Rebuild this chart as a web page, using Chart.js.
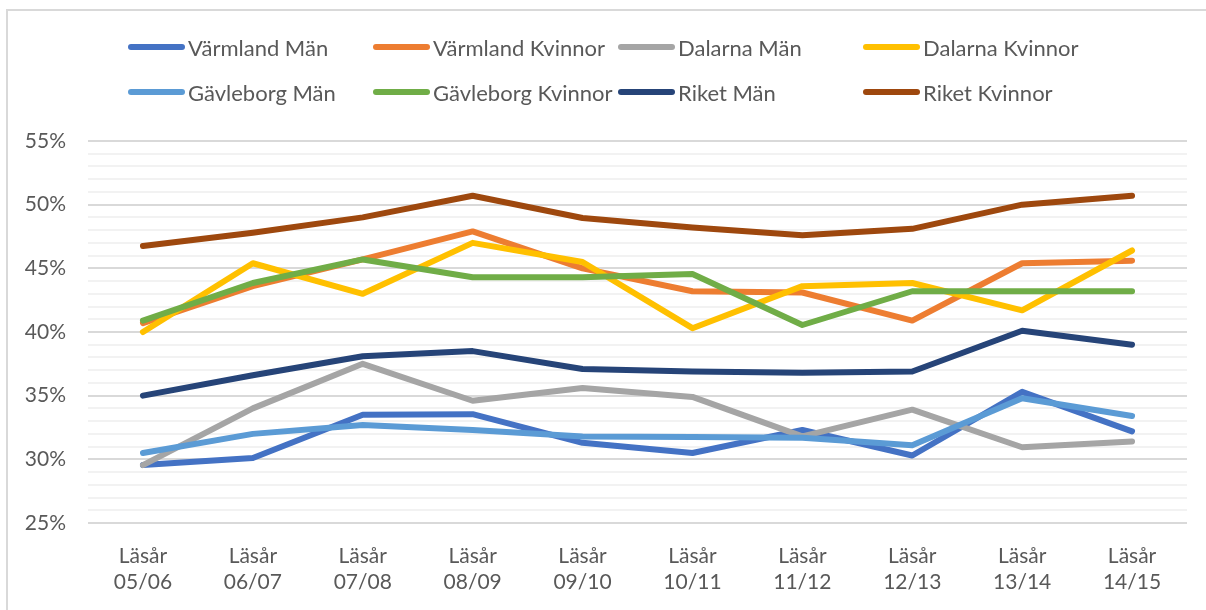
<!DOCTYPE html>
<html>
<head>
<meta charset="utf-8">
<script src="https://cdn.jsdelivr.net/npm/chart.js@4"></script>
<style>
  html, body { margin:0; padding:0; background:#fff; width:1206px; height:610px; overflow:hidden; }
  #frame { position:absolute; left:6px; top:9px; width:1400px; height:800px; border:2px solid #d9d9d9; box-sizing:border-box; }
  #wrap { position:absolute; left:0; top:0; width:1206px; height:610px; }
  #legend { position:absolute; left:0; top:0; width:1206px; height:120px; font-family: Lato, "Open Sans", sans-serif; font-size:22px; color:#595959; }
  .item { position:absolute; display:flex; align-items:center; white-space:nowrap; }
  .swatch { width:57px; height:6px; border-radius:3px; margin-right:3px; }
</style>
</head>
<body>
<div id="frame"></div>
<div id="wrap"><canvas id="c" width="1206" height="610"></canvas></div>
<div id="legend"></div>
<script>
const categories = [["Läsår","05/06"],["Läsår","06/07"],["Läsår","07/08"],["Läsår","08/09"],["Läsår","09/10"],["Läsår","10/11"],["Läsår","11/12"],["Läsår","12/13"],["Läsår","13/14"],["Läsår","14/15"]];
const seriesNames = ["Värmland Män","Värmland Kvinnor","Dalarna Män","Dalarna Kvinnor","Gävleborg Män","Gävleborg Kvinnor","Riket Män","Riket Kvinnor"];
const seriesColors = ["#4472C4","#ED7D31","#A5A5A5","#FFC000","#5B9BD5","#70AD47","#264478","#9E480E"];
const varmlandMan      = [29.55, 30.1, 33.5, 33.55, 31.3, 30.5, 32.3, 30.3, 35.3, 32.2];
const varmlandKvinnor  = [40.7, 43.6, 45.7, 47.9, 45.0, 43.2, 43.1, 40.9, 45.4, 45.6];
const dalarnaMan       = [29.55, 34.0, 37.5, 34.6, 35.6, 34.9, 31.8, 33.9, 30.95, 31.4];
const dalarnaKvinnor   = [40.0, 45.4, 43.0, 47.0, 45.5, 40.3, 43.6, 43.85, 41.7, 46.4];
const gavleborgMan     = [30.5, 32.0, 32.7, 32.3, 31.8, 31.75, 31.7, 31.1, 34.8, 33.4];
const gavleborgKvinnor = [40.9, 43.85, 45.7, 44.3, 44.3, 44.55, 40.55, 43.2, 43.2, 43.2];
const riketMan         = [35.0, 36.6, 38.1, 38.5, 37.1, 36.9, 36.8, 36.9, 40.1, 39.0];
const riketKvinnor     = [46.75, 47.8, 49.0, 50.7, 48.95, 48.2, 47.6, 48.1, 50.0, 50.7];
const seriesValues = [varmlandMan, varmlandKvinnor, dalarnaMan, dalarnaKvinnor, gavleborgMan, gavleborgKvinnor, riketMan, riketKvinnor];
const yMin = 25, yMax = 55, yStep = 1, yLabelStep = 5;

const datasets = seriesNames.map((n, i) => ({
  label: n,
  data: seriesValues[i],
  borderColor: seriesColors[i],
  backgroundColor: seriesColors[i],
  borderWidth: 6,
  borderCapStyle: 'round',
  borderJoinStyle: 'round',
  pointRadius: 0,
  tension: 0,
  order: seriesNames.length - i
}));

const FONT = 'Lato, "Open Sans", sans-serif';
new Chart(document.getElementById('c'), {
  type: 'line',
  data: { labels: categories, datasets },
  options: {
    responsive: false,
    animation: false,
    layout: { padding: { top: 141, right: 19, left: 0, bottom: 0 } },
    plugins: { legend: { display: false }, tooltip: { enabled: false } },
    scales: {
      x: {
        offset: true,
        grid: { display: false, drawTicks: false },
        border: { display: false },
        ticks: { color: '#595959', font: { family: FONT, size: 21, lineHeight: 1.2 }, padding: 21, maxRotation: 0, autoSkip: false },
        afterFit: s => { s.height = 87; }
      },
      y: {
        min: yMin, max: yMax,
        grid: {
          drawTicks: false,
          color: c => (Math.round(c.tick.value) % yLabelStep === 0 ? '#D9D9D9' : '#F2F2F2'),
          lineWidth: 2
        },
        border: { display: false },
        ticks: {
          stepSize: yStep, autoSkip: false,
          color: '#595959', font: { family: FONT, size: 21 }, padding: 22,
          callback: v => (Math.round(v) % yLabelStep === 0 ? v + '%' : '')
        },
        afterFit: s => { s.width = 88; }
      }
    }
  }
});

const legend = document.getElementById('legend');
seriesNames.forEach((n, i) => {
  const col = i % 4, row = Math.floor(i / 4);
  const d = document.createElement('div');
  d.className = 'item';
  d.style.left = (128 + col * 245) + 'px';
  d.style.top = (row === 0 ? 47 : 92) - 13 + 'px';
  d.style.height = '26px';
  d.innerHTML = '<span class="swatch" style="background:' + seriesColors[i] + '"></span><span>' + n + '</span>';
  legend.appendChild(d);
});
</script>
</body>
</html>
